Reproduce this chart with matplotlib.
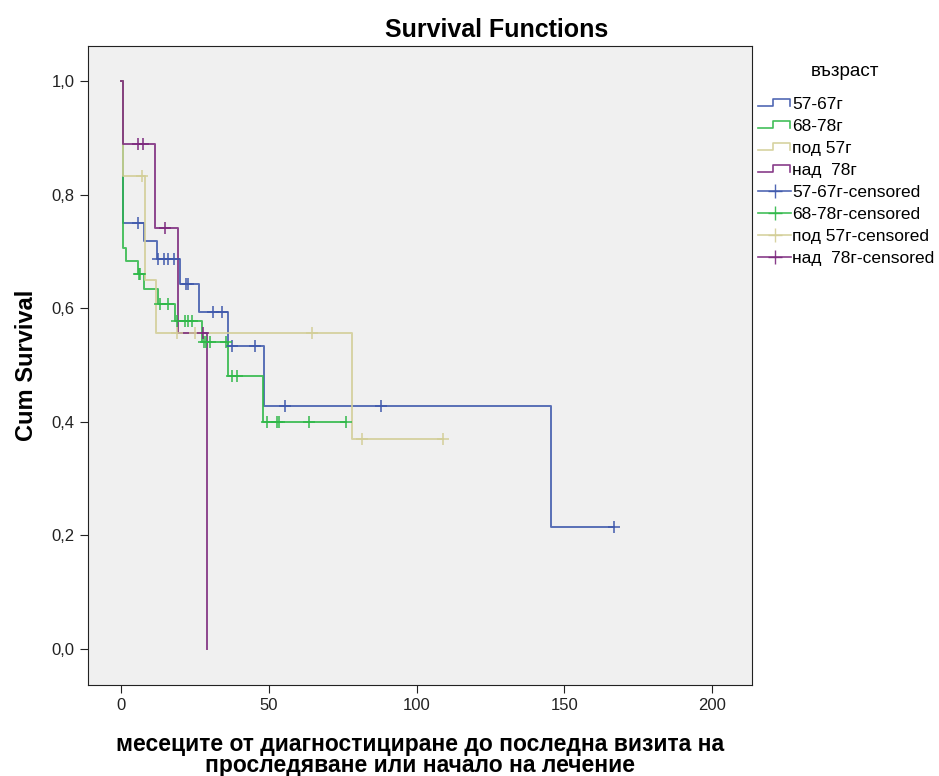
import numpy as np
import matplotlib
matplotlib.use('Agg')
import matplotlib.pyplot as plt
from matplotlib.lines import Line2D
from matplotlib.legend_handler import HandlerBase

plt.rcParams['font.family'] = ['Liberation Sans', 'DejaVu Sans']

# Kaplan-Meier steps per age group: drop times, survival after each drop, last follow-up, censored times
groups = ['57-67г', '68-78г', 'под 57г', 'над  78г']
colors = ['#3e58ac', '#2eb848', '#d3ce97', '#7c287d']

t_5767 = [0, 0.7, 7.6, 12.2, 20.0, 26.4, 36.2, 48.4, 145.5]
s_5767 = [1.0, 0.750, 0.718, 0.687, 0.643, 0.593, 0.533, 0.428, 0.214]
c_5767 = [5.8, 12.5, 14.6, 16.0, 18.0, 22.0, 22.8, 31.0, 34.0, 37.5, 45.3, 55.5, 88.0, 166.8]
end_5767 = 166.8

t_6878 = [0, 0.7, 1.7, 5.8, 7.8, 12.5, 18.3, 27.4, 36.2, 48.0]
s_6878 = [1.0, 0.706, 0.683, 0.660, 0.634, 0.607, 0.577, 0.540, 0.481, 0.400]
c_6878 = [6.0, 6.3, 13.0, 16.0, 19.0, 21.5, 22.5, 24.0, 28.0, 28.7, 30.2, 35.5,
          37.6, 39.3, 49.4, 52.8, 53.3, 63.6, 76.1]
end_6878 = 76.1

t_pod57 = [0, 0.7, 8.1, 11.8, 78.2]
s_pod57 = [1.0, 0.833, 0.650, 0.556, 0.370]
c_pod57 = [7.1, 19.0, 25.0, 64.6, 81.5, 109.0]
end_pod57 = 109.0

t_nad78 = [0, 0.7, 11.5, 19.3, 29.0]
s_nad78 = [1.0, 0.889, 0.741, 0.556, 0.0]
c_nad78 = [5.8, 7.4, 14.9, 27.7]
end_nad78 = 29.0

times = [t_5767, t_6878, t_pod57, t_nad78]
survs = [s_5767, s_6878, s_pod57, s_nad78]
cens = [c_5767, c_6878, c_pod57, c_nad78]
ends = [end_5767, end_6878, end_pod57, end_nad78]


class StepHandler(HandlerBase):
    # small step-shaped icon for the survival lines in the legend
    def create_artists(self, legend, orig_handle, xdescent, ydescent,
                       width, height, fontsize, trans):
        xs = np.array([0, 0.45, 0.45, 0.95, 0.95]) * width - xdescent
        ys = np.array([0.2, 0.2, 0.8, 0.8, 0.2]) * height - ydescent
        ln = Line2D(xs, ys, color=orig_handle.get_color(), lw=1.2, alpha=0.9)
        ln.set_transform(trans)
        return [ln]


fig = plt.figure(figsize=(9.39, 7.76), dpi=100)
ax = fig.add_axes([88/939, 1-685/776, 664/939, 639/776])
ax.set_facecolor('#f0f0f0')

for t, s, e, col in zip(times, survs, ends, colors):
    ax.step(t + [e], s + [s[-1]], where='post', color=col, lw=1.4, alpha=0.85)

for t, s, c, col in zip(times, survs, cens, colors):
    idx = np.searchsorted(t, c, side='right') - 1
    ax.plot(c, np.array(s)[idx], linestyle='none', marker='+', ms=8, mew=1.2,
            color=col, alpha=0.9)

ax.set_xlim(-11.2, 213.5)
ax.set_ylim(-0.0634, 1.0616)
ax.set_xticks([0, 50, 100, 150, 200])
ax.set_yticks([0.0, 0.2, 0.4, 0.6, 0.8, 1.0])
ax.set_yticklabels(['0,0', '0,2', '0,4', '0,6', '0,8', '1,0'])
ax.tick_params(labelsize=12, length=6, color='#222222', labelcolor='#222222')
for sp in ax.spines.values():
    sp.set_color('#222222')

fig.text(497/939, 1-30/776, 'Survival Functions', ha='center', va='center',
         fontsize=18, fontweight='bold')
ax.set_ylabel('Cum Survival', fontsize=17, fontweight='bold', labelpad=10)
ax.set_xlabel('месеците от диагностициране до последна визита на\nпроследяване или начало на лечение',
              fontsize=16.5, fontweight='bold', labelpad=14, linespacing=0.9)

handles = [Line2D([], [], color=c) for c in colors]
handles += [Line2D([], [], color=c, marker='+', ms=10, lw=1.2, alpha=0.9) for c in colors]
labels = groups + [g + '-censored' for g in groups]
hmap = {h: StepHandler() for h in handles[:4]}
fig.text(845/939, 1-72/776, 'възраст', ha='center', va='center', fontsize=13.5)
fig.legend(handles, labels, handler_map=hmap, loc='upper left',
           bbox_to_anchor=(755/939, 1-93/776), frameon=False,
           fontsize=12.5, handlelength=1.9, handletextpad=0.05,
           labelspacing=0.4, numpoints=1, borderaxespad=0, borderpad=0.2)

fig.savefig('out.png', dpi=100)
